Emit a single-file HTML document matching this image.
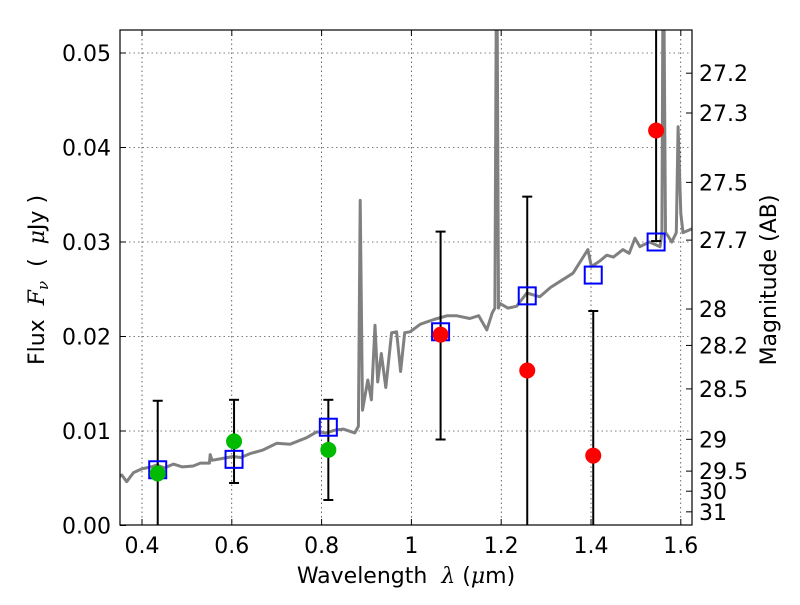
<!DOCTYPE html>
<html><head><meta charset="utf-8"><style>
body{margin:0;background:#fff}
svg text{font-family:"DejaVu Sans","Liberation Sans",sans-serif;fill:#000}
</style></head><body>
<svg id="c" width="800" height="600" viewBox="0 0 800 600" xmlns="http://www.w3.org/2000/svg">
<defs><clipPath id="pc"><rect x="120" y="30" width="572" height="495"/></clipPath></defs>
<rect width="800" height="600" fill="#fff"/>
<g id="grid"></g>
<g id="spec" clip-path="url(#pc)"></g>
<g id="marks" clip-path="url(#pc)"></g>
<rect x="120" y="30" width="572" height="495" fill="none" stroke="#000" stroke-width="1.2"/>
<g id="axes"></g>
<text x="406" y="583" font-size="22" text-anchor="middle" xml:space="preserve">Wavelength  <tspan font-family="DejaVu Serif" font-style="italic">λ</tspan> (<tspan font-family="DejaVu Serif" font-style="italic">μ</tspan>m)</text>
<text transform="translate(44,280) rotate(-90)" font-size="22" text-anchor="middle" xml:space="preserve">Flux  <tspan font-family="DejaVu Serif" font-style="italic">F</tspan><tspan font-family="DejaVu Serif" font-style="italic" font-size="15" dy="4">ν</tspan><tspan dy="-4">  (  </tspan><tspan font-family="DejaVu Serif" font-style="italic">μ</tspan>Jy )</text>
<text transform="translate(776,280) rotate(-90)" font-size="22" text-anchor="middle">Magnitude (AB)</text>
</svg>
<script>
const xTicks=[0.4,0.6,0.8,1.0,1.2,1.4,1.6];
const xTickLabels=["0.4","0.6","0.8","1","1.2","1.4","1.6"];
const yTicks=[0,0.01,0.02,0.03,0.04,0.05];
const yTickLabels=["0.00","0.01","0.02","0.03","0.04","0.05"];
const magTicks=[27.2,27.3,27.5,27.7,28,28.2,28.5,29,29.5,30,31];
const specLam=[0.35,0.355,0.366,0.381,0.40,0.42,0.433,0.45,0.47,0.49,0.514,0.53,0.55,0.552,0.556,0.58,0.603,0.62,0.64,0.67,0.70,0.73,0.767,0.789,0.81,0.83,0.848,0.874,0.882,0.886,0.891,0.903,0.911,0.919,0.925,0.933,0.943,0.956,0.967,0.976,0.985,0.997,1.02,1.05,1.08,1.10,1.13,1.15,1.168,1.18,1.186,1.19,1.194,1.197,1.215,1.234,1.257,1.286,1.31,1.33,1.36,1.393,1.401,1.42,1.435,1.45,1.471,1.485,1.498,1.509,1.53,1.554,1.558,1.561,1.566,1.572,1.58,1.59,1.594,1.60,1.605,1.62,1.63];
const specFlux=[0.0052,0.00534,0.00464,0.0056,0.0060,0.0062,0.0064,0.0061,0.0065,0.0062,0.0063,0.0066,0.0066,0.0075,0.0069,0.0071,0.0073,0.0072,0.0076,0.0080,0.0087,0.0086,0.0093,0.0099,0.0098,0.0101,0.0102,0.0098,0.0105,0.0344,0.0122,0.0154,0.0133,0.0212,0.0152,0.0182,0.0146,0.0204,0.0205,0.0163,0.0204,0.0205,0.0213,0.0218,0.0222,0.0222,0.0219,0.0222,0.0207,0.0225,0.023,0.065,0.023,0.0235,0.0230,0.0232,0.0246,0.0242,0.0252,0.0258,0.0267,0.0292,0.0274,0.0280,0.0286,0.0284,0.0292,0.0288,0.0304,0.0295,0.0300,0.0295,0.031,0.065,0.031,0.0306,0.030,0.031,0.0422,0.033,0.031,0.0313,0.0315];
const photLam=[0.435,0.605,0.815,1.065,1.258,1.405,1.545];
const photFlux=[0.0055,0.0089,0.0080,0.0202,0.0164,0.0074,0.0418];
const errLo=[-0.001,0.0045,0.0027,0.0091,-0.001,-0.001,0.0301];
const errHi=[0.0132,0.0133,0.0133,0.0311,0.0348,0.0227,0.06];
const photColors=["#00bb00","#00bb00","#00bb00","#ff0000","#ff0000","#ff0000","#ff0000"];
const modelFlux=[0.0059,0.0070,0.0104,0.0205,0.0243,0.0265,0.0300];

const X=l=>142+(l-0.4)*449;
const Y=f=>525.5-f*9450;
const NS="http://www.w3.org/2000/svg";
function mk(p,t,a){const e=document.createElementNS(NS,t);for(const k in a)e.setAttribute(k,a[k]);p.appendChild(e);return e;}
const grid=document.getElementById('grid'),axes=document.getElementById('axes'),spec=document.getElementById('spec'),marks=document.getElementById('marks');
xTicks.forEach((t,i)=>{const x=X(t);
 const g=mk(grid,'line',{x1:x,x2:x,y1:30,y2:525,stroke:'#000','stroke-width':0.6,'stroke-dasharray':'1.5,3'});
 
 
 mk(axes,'line',{x1:x,x2:x,y1:525,y2:519,stroke:'#000'});mk(axes,'line',{x1:x,x2:x,y1:30,y2:36,stroke:'#000'});
 const tx=mk(axes,'text',{x:x,y:553,'font-size':22,'text-anchor':'middle'});tx.textContent=xTickLabels[i];
 
 
});
yTicks.forEach((t,i)=>{const y=Y(t);
 if(t>0){const g=mk(grid,'line',{x1:120,x2:692,y1:y,y2:y,stroke:'#000','stroke-width':0.6,'stroke-dasharray':'1.5,3'});
 
 }
 mk(axes,'line',{x1:120,x2:126,y1:y,y2:y,stroke:'#000'});
 const tx=mk(axes,'text',{x:111,y:y+8,'font-size':22,'text-anchor':'end'});tx.textContent=yTickLabels[i];
 
 
});
magTicks.forEach(m=>{const y=Y(Math.pow(10,(23.9-m)/2.5));
 mk(axes,'line',{x1:686,x2:692,y1:y,y2:y,stroke:'#000'});
 const tx=mk(axes,'text',{x:699,y:y+8,'font-size':22});tx.textContent=String(m);
 
 
});
const pts=specLam.map((l,i)=>X(l).toFixed(1)+','+Y(specFlux[i]).toFixed(1)).join(' ');
const pl=mk(spec,'polyline',{points:pts,fill:'none',stroke:'#808080','stroke-width':3,'stroke-linejoin':'round'});


photLam.forEach((l,i)=>{const x=X(l);
 const y1=Y(errHi[i]),y0=Y(errLo[i]);
 const eb=mk(marks,'line',{x1:x,x2:x,y1:y1,y2:y0,stroke:'#000','stroke-width':2});
 
 
 mk(marks,'line',{x1:x-5,x2:x+5,y1:y1,y2:y1,stroke:'#000','stroke-width':2});
 mk(marks,'line',{x1:x-5,x2:x+5,y1:y0,y2:y0,stroke:'#000','stroke-width':2});
});
photLam.forEach((l,i)=>{const x=X(l);
 const s=mk(marks,'rect',{x:x-8.5,y:Y(modelFlux[i])-8.5,width:17,height:17,fill:'none',stroke:'#0000ff','stroke-width':2});
 
 
 const c=mk(marks,'circle',{cx:x,cy:Y(photFlux[i]),r:8,fill:photColors[i]});
 
 
});
</script>
</body></html>
